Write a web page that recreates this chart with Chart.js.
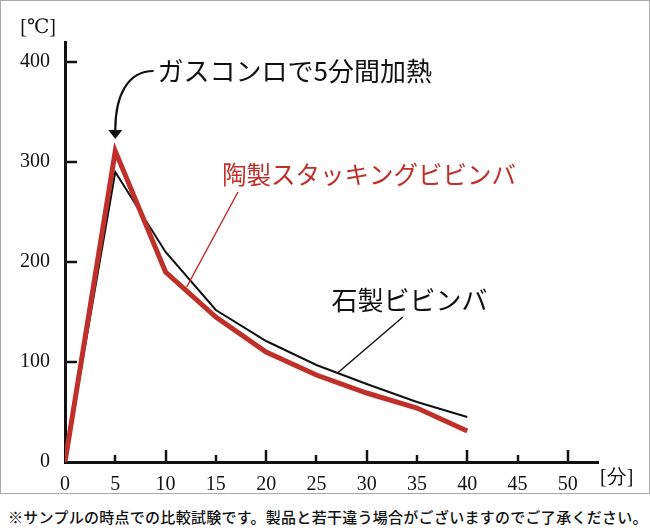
<!DOCTYPE html>
<html lang="ja">
<head>
<meta charset="utf-8">
<script src="https://cdn.jsdelivr.net/npm/chart.js@4.4.0/dist/chart.umd.min.js"></script>
<style>
  html, body { margin: 0; padding: 0; background: #fff; }
  body { width: 650px; height: 528px; position: relative; overflow: hidden; }
  #frame { position: absolute; left: 0; top: 0; width: 650px; height: 494px; box-sizing: border-box; border: 1px solid #a9a9a9; }
  #wrap { position: absolute; left: 0; top: 0; width: 650px; height: 494px; }
  #note { position: absolute; left: 8px; top: 509px; font: 500 15px "Noto Sans CJK JP", sans-serif; letter-spacing: 0.28px; white-space: nowrap; color: #111; line-height: 1; }
</style>
</head>
<body>
<div id="frame"></div>
<div id="wrap"><canvas id="chart"></canvas></div>
<div id="note">※サンプルの時点での比較試験です。製品と若干違う場合がございますのでご了承ください。</div>
<script>
// 加熱後の経過時間 [分] と温度 [℃]
const minutes = [0, 5, 10, 15, 20, 25, 30, 35, 40];
const stoneTemps = [0, 290, 210, 152, 121, 97, 78, 60, 45];
const potteryTemps = [0, 311, 190, 145, 110, 87, 69, 54, 31];
const xTicks = [0, 5, 10, 15, 20, 25, 30, 35, 40, 45, 50];
const yTicks = [0, 100, 200, 300, 400];

const stoneLabel = '石製ビビンバ';
const potteryLabel = '陶製スタッキングビビンバ';
const heatLabel = 'ガスコンロで5分間加熱';
const xUnit = '[分]';
const yUnit = '[℃]';

const RED = '#c0302a';
const INK = '#111111';
const SERIF = '"Liberation Serif", "DejaVu Serif", serif';
const JP = '"Noto Sans CJK JP", sans-serif';

// callouts, anchored in data units (minutes, ℃)
const callouts = {
  heat: { text: [9.2, 391], arc: [[8.8, 391], [6.2, 391], [5, 366], [5, 332]], tip: [5, 323] },
  pottery: { text: [15.6, 287], leader: [[17.2, 270], [12.1, 175]] },
  stone: { text: [26.5, 162], leader: [[33.6, 145], [27.1, 89]] }
};

const calloutPlugin = {
  id: 'callouts',
  afterDraw(chart) {
    const { ctx, scales: { x, y } } = chart;
    const P = (p) => [x.getPixelForValue(p[0]), y.getPixelForValue(p[1])];
    ctx.save();

    // inward tick marks, longer every 10 minutes
    ctx.strokeStyle = INK;
    ctx.lineWidth = 2.5;
    xTicks.forEach(v => {
      if (!v) return;
      const px = Math.round(x.getPixelForValue(v));
      const len = v % 10 ? 7 : 12;
      ctx.beginPath();
      ctx.moveTo(px, y.bottom);
      ctx.lineTo(px, y.bottom - len);
      ctx.stroke();
    });
    yTicks.forEach(v => {
      if (!v) return;
      const py = Math.round(y.getPixelForValue(v));
      ctx.beginPath();
      ctx.moveTo(x.left, py);
      ctx.lineTo(x.left + 12, py);
      ctx.stroke();
    });

    // units
    ctx.fillStyle = INK;
    ctx.font = '20px ' + SERIF;
    ctx.textBaseline = 'middle';
    ctx.textAlign = 'right';
    ctx.fillText(yUnit, x.left - 9, y.top - 14);
    ctx.textAlign = 'left';
    ctx.fillText(xUnit, x.right + 2, y.bottom + 16);

    // heating arrow
    const h = callouts.heat;
    const a = h.arc.map(P);
    ctx.lineWidth = 2.2;
    ctx.beginPath();
    ctx.moveTo(a[0][0], a[0][1]);
    ctx.bezierCurveTo(a[1][0], a[1][1], a[2][0], a[2][1], a[3][0], a[3][1]);
    ctx.stroke();
    const t = P(h.tip);
    ctx.beginPath();
    ctx.moveTo(t[0], t[1]);
    ctx.lineTo(t[0] - 7, t[1] - 9);
    ctx.lineTo(t[0] + 7, t[1] - 9);
    ctx.closePath();
    ctx.fill();
    ctx.font = '26px ' + JP;
    const ht = P(h.text);
    ctx.fillText(heatLabel, ht[0], ht[1]);

    // series labels with leaders
    [[callouts.pottery, potteryLabel, RED, 1.5, '24.5px '],
     [callouts.stone, stoneLabel, INK, 1.5, '26px ']].forEach(([c, label, color, lw, size]) => {
      const l = c.leader.map(P);
      ctx.strokeStyle = color;
      ctx.lineWidth = lw;
      ctx.beginPath();
      ctx.moveTo(l[0][0], l[0][1]);
      ctx.lineTo(l[1][0], l[1][1]);
      ctx.stroke();
      ctx.fillStyle = color;
      ctx.font = size + JP;
      const p = P(c.text);
      ctx.fillText(label, p[0], p[1]);
    });

    ctx.restore();
  }
};

const toPoints = (vals) => vals.map((v, i) => ({ x: minutes[i], y: v }));

new Chart(document.getElementById('chart'), {
  type: 'line',
  data: {
    datasets: [
      {
        label: potteryLabel,
        data: toPoints(potteryTemps),
        borderColor: RED,
        borderWidth: 5,
        borderJoinStyle: 'miter',
        pointRadius: 0,
        tension: 0,
        order: 0
      },
      {
        label: stoneLabel,
        data: toPoints(stoneTemps),
        borderColor: INK,
        borderWidth: 2,
        borderJoinStyle: 'miter',
        pointRadius: 0,
        tension: 0,
        order: 1
      }
    ]
  },
  options: {
    responsive: true,
    maintainAspectRatio: false,
    animation: false,
    events: [],
    layout: { padding: { left: 0, top: 42, right: 52, bottom: 0 } },
    plugins: { legend: { display: false }, tooltip: { enabled: false } },
    scales: {
      x: {
        type: 'linear',
        min: 0,
        max: 53,
        afterBuildTicks: (s) => { s.ticks = xTicks.map(v => ({ value: v })); },
        afterFit: (s) => { s.height = 32; },
        grid: { display: false },
        border: { display: true, color: INK, width: 3 },
        ticks: { color: INK, font: { size: 20, family: SERIF }, padding: 3, maxRotation: 0, autoSkip: false }
      },
      y: {
        min: 0,
        max: 420,
        afterBuildTicks: (s) => { s.ticks = yTicks.map(v => ({ value: v })); },
        afterFit: (s) => { s.width = 65; },
        grid: { display: false },
        border: { display: true, color: INK, width: 3 },
        ticks: { color: INK, font: { size: 20, family: SERIF }, padding: 7 }
      }
    }
  },
  plugins: [calloutPlugin]
});
</script>
</body>
</html>
